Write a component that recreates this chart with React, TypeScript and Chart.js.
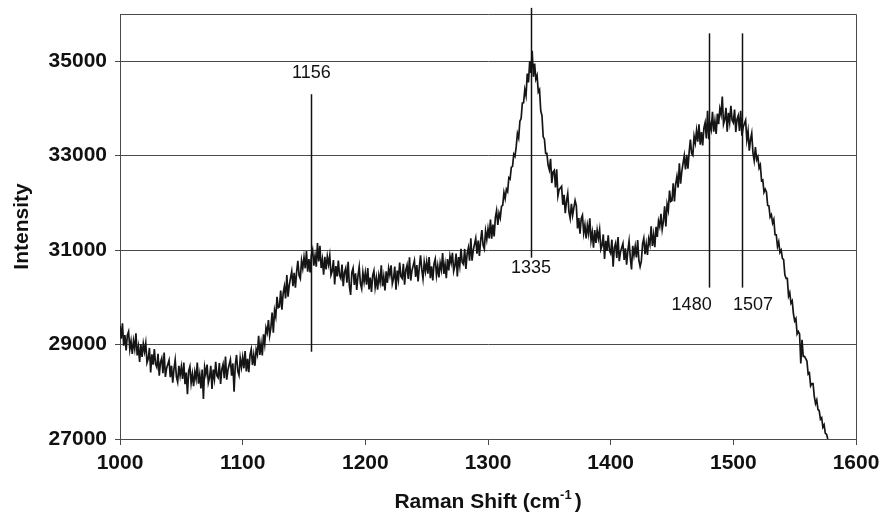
import React, { useEffect, useRef } from "react";
import { Chart, registerables } from "chart.js";

Chart.register(...registerables);

// Raman spectrum sampled every 1 cm^-1 starting at 1000 cm^-1 (one row = 10 cm^-1)
const ramanStart = 1000;
const ramanStep = 1;
const intensity = [
  29400, 29125, 29450, 28975, 29200, 28875, 29200, 29275, 28900, 29075,
  28800, 29080, 28910, 29240, 28770, 28950, 28630, 29010, 28740, 29020,
  28850, 29032, 28614, 28696, 28928, 28410, 28792, 28574, 28906, 28588,
  28520, 28805, 28340, 28625, 28710, 28395, 28830, 28315, 28500, 28585,
  28670, 28311, 28552, 28193, 28484, 28675, 28316, 28207, 28548, 28339,
  28530, 28274, 28618, 28162, 28406, 27950, 28444, 28538, 28182, 28376,
  28120, 28420, 28270, 28620, 28170, 28370, 28070, 28470, 27850, 28520,
  28370, 28578, 28186, 28294, 28552, 28060, 28468, 28276, 28634, 28342,
  28300, 28608, 28166, 28474, 28582, 28290, 28748, 28256, 28464, 28572,
  28680, 28340, 28600, 28000, 28570, 28780, 28440, 28350, 28710, 28520,
  28730, 28497, 28864, 28431, 28698, 28415, 28782, 28899, 28566, 28783,
  28550, 28895, 28790, 29185, 28780, 29025, 28770, 29215, 29010, 29355,
  29250, 29520, 29190, 29360, 29680, 29250, 29720, 29590, 30010, 29780,
  29800, 30145, 29740, 30085, 30230, 29975, 30470, 30015, 30260, 30405,
  30550, 30235, 30520, 30205, 30540, 30775, 30460, 30395, 30780, 30615,
  30850, 30615, 30980, 30545, 30810, 30525, 30890, 31005, 30670, 30885,
  30650, 31150, 30760, 31090, 30620, 30800, 30480, 30860, 30590, 30870,
  30700, 30885, 30470, 30555, 30790, 30275, 30660, 30445, 30780, 30465,
  30400, 30692, 30234, 30526, 30618, 30310, 30752, 30244, 30050, 30528,
  30620, 30265, 30510, 30155, 30450, 30645, 30290, 30185, 30530, 30325,
  30520, 30269, 30618, 30167, 30416, 30115, 30464, 30563, 30212, 30411,
  30160, 30466, 30322, 30678, 30234, 30440, 30146, 30552, 30308, 30614,
  30470, 30678, 30286, 30394, 30652, 30160, 30568, 30376, 30734, 30442,
  30400, 30708, 30266, 30574, 30682, 30390, 30848, 30356, 30564, 30672,
  30780, 30432, 30684, 30336, 30638, 30890, 30592, 30394, 30746, 30548,
  30750, 30502, 30854, 30406, 30658, 30360, 30712, 30814, 30466, 30668,
  30420, 30726, 30582, 30938, 30494, 30700, 30406, 30812, 30568, 30874,
  30730, 30942, 30554, 30666, 30928, 30440, 30852, 30664, 31026, 30738,
  30700, 31025, 30600, 30925, 31050, 30775, 31250, 30775, 31000, 31125,
  31250, 30925, 31200, 30875, 31200, 31425, 31100, 31025, 31400, 31225,
  31450, 31248, 31646, 31244, 31542, 31290, 31688, 31836, 31534, 31782,
  31680, 31927, 31949, 32221, 32093, 32290, 32237, 32534, 32506, 32753,
  32775, 33030, 32985, 33190, 33470, 33375, 33730, 33785, 34115, 34120,
  34400, 34270, 34740, 34550, 35000, 34750, 35220, 34670, 34950, 34620,
  34700, 34350, 34400, 33950, 33850, 33400, 33350, 33050, 33050, 32800,
  32700, 32935, 32420, 32655, 32690, 32325, 32710, 32145, 32280, 32315,
  32350, 31960, 32170, 31780, 32040, 32200, 31810, 31670, 31980, 31740,
  31900, 32050, 31940, 31460, 31680, 31350, 31670, 31740, 31360, 31530,
  31250, 31525, 31350, 31675, 31200, 31375, 31050, 31425, 31150, 31425,
  31250, 31433, 31016, 31099, 31332, 30815, 31198, 30981, 31314, 30997,
  30930, 31221, 30650, 31053, 31144, 30835, 31276, 30767, 30958, 31049,
  31140, 30790, 31040, 30690, 30990, 31190, 30840, 30590, 31090, 30890,
  31080, 30847, 31214, 30781, 30650, 30765, 31132, 31249, 30916, 31133,
  30900, 31235, 31120, 31505, 31090, 31325, 31060, 31495, 31280, 31615,
  31500, 31770, 31440, 31610, 31930, 31500, 31970, 31840, 32260, 32030,
  32050, 32415, 32030, 32395, 32560, 32325, 32840, 32405, 32670, 32835,
  33000, 32708, 33016, 32724, 33082, 33340, 33048, 33006, 33414, 33272,
  33530, 33297, 33664, 33231, 33498, 33215, 33582, 33699, 33366, 33950,
  33350, 33677, 33554, 33931, 33508, 33735, 33462, 33889, 33666, 33993,
  33870, 34250, 33666, 33764, 34012, 33510, 33908, 33706, 34054, 33752,
  33700, 33975, 33500, 33775, 33850, 33525, 33950, 33425, 33600, 33675,
  33750, 33335, 33520, 33105, 33340, 33475, 33060, 32895, 33180, 32915,
  32975, 32740, 32805, 32470, 32485, 32225, 32290, 32230, 31945, 31935,
  31700, 31750, 31575, 31650, 31325, 31325, 31075, 31175, 30950, 31000,
  30825, 30800, 30475, 30400, 30400, 30025, 30100, 29875, 29925, 29650,
  29500, 29550, 29225, 29275, 29225, 28600, 29100, 28750, 28750, 28700,
  28650, 28375, 28400, 28125, 28175, 28175, 27900, 27750, 27825, 27625,
  27600, 27420, 27450, 27250, 27300, 27120, 27100, 27000,
];

const yTicks = [27000, 29000, 31000, 33000, 35000];
const xMin = 1000;
const xMax = 1600;
const xStep = 100;
const yMin = 27000;
const yMax = 36000;

// Peak marker lines and labels (data units)
const peakPositions = [1156, 1335, 1480, 1507];
const peakLabels = ["1156", "1335", "1480", "1507"];
const peakLineTop = [34300, 36130, 35590, 35590];
const peakLineBottom = [28850, 30840, 30206, 30206];
const peakLabelX = [1156, 1335, 1466, 1516];
const peakLabelY = [34746, 30630, 29840, 29840];

const xTitle = "Raman Shift (cm";
const xTitleSup = "-1";
const xTitleEnd = ")";
const yTitle = "Intensity";

const FONT = '"Liberation Sans", Arial, Helvetica, sans-serif';
const GRID = "#4a4a4a";

export default function App() {
  const ref = useRef<HTMLCanvasElement>(null);

  useEffect(() => {
    const canvas = ref.current;
    if (!canvas) return;
    const points = intensity.map((v, i) => ({ x: ramanStart + i * ramanStep, y: v }));

    const decor = {
      id: "decor",
      afterDatasetsDraw(chart: any) {
        const { ctx, chartArea, scales } = chart;
        const xs = scales.x;
        const ys = scales.y;
        ctx.save();
        // frame top/right
        ctx.strokeStyle = GRID;
        ctx.lineWidth = 1;
        ctx.beginPath();
        ctx.moveTo(chartArea.left, chartArea.top + 0.5);
        ctx.lineTo(chartArea.right + 0.5, chartArea.top + 0.5);
        ctx.lineTo(chartArea.right + 0.5, chartArea.bottom);
        ctx.stroke();
        // peak lines
        ctx.strokeStyle = "#111";
        ctx.lineWidth = 1.5;
        peakPositions.forEach((p, i) => {
          const px = Math.round(xs.getPixelForValue(p)) + 0.5;
          ctx.beginPath();
          ctx.moveTo(px, ys.getPixelForValue(peakLineTop[i]));
          ctx.lineTo(px, ys.getPixelForValue(peakLineBottom[i]));
          ctx.stroke();
        });
        ctx.fillStyle = "#111";
        ctx.font = `18px ${FONT}`;
        ctx.textAlign = "center";
        ctx.textBaseline = "middle";
        peakLabels.forEach((t, i) => {
          ctx.fillText(t, xs.getPixelForValue(peakLabelX[i]), ys.getPixelForValue(peakLabelY[i]));
        });
        // axis titles
        ctx.font = `bold 21px ${FONT}`;
        ctx.textBaseline = "alphabetic";
        const w1 = ctx.measureText(xTitle).width;
        ctx.font = `bold 13px ${FONT}`;
        const w2 = ctx.measureText(xTitleSup).width;
        ctx.font = `bold 21px ${FONT}`;
        const w3 = ctx.measureText(xTitleEnd).width;
        const total = w1 + w2 + 3 + w3;
        const cx = (chartArea.left + chartArea.right) / 2;
        let sx = cx - total / 2;
        const by = 508;
        ctx.textAlign = "left";
        ctx.fillText(xTitle, sx, by);
        sx += w1;
        ctx.font = `bold 13px ${FONT}`;
        ctx.fillText(xTitleSup, sx, by - 9);
        sx += w2 + 3;
        ctx.font = `bold 21px ${FONT}`;
        ctx.fillText(xTitleEnd, sx, by);
        ctx.save();
        ctx.translate(22, (chartArea.top + chartArea.bottom) / 2);
        ctx.rotate(-Math.PI / 2);
        ctx.textAlign = "center";
        ctx.textBaseline = "middle";
        ctx.fillText(yTitle, 0, 0);
        ctx.restore();
        ctx.restore();
      },
    };

    const chart = new Chart(canvas, {
      type: "line",
      data: {
        datasets: [
          {
            data: points,
            borderColor: "#151515",
            borderWidth: 1.7,
            pointRadius: 0,
            tension: 0,
            fill: false,
          },
        ],
      },
      options: {
        responsive: false,
        animation: false,
        layout: { padding: { top: 14, right: 26, left: 0, bottom: 0 } },
        plugins: { legend: { display: false }, tooltip: { enabled: false } },
        scales: {
          x: {
            type: "linear",
            min: xMin,
            max: xMax,
            ticks: {
              stepSize: xStep,
              color: "#111",
              font: { family: FONT, size: 21, weight: "bold" },
              padding: 6,
              maxRotation: 0,
              callback: (v: any) => String(v),
            },
            grid: { drawOnChartArea: false, drawTicks: true, tickLength: 6, color: GRID },
            border: { color: GRID, width: 1 },
            afterFit: (s: any) => {
              s.height = 74;
              s.paddingLeft = 0;
              s.paddingRight = 0;
            },
          },
          y: {
            type: "linear",
            min: yMin,
            max: yMax,
            afterBuildTicks: (s: any) => {
              s.ticks = yTicks.map((v) => ({ value: v }));
            },
            ticks: {
              color: "#111",
              font: { family: FONT, size: 21, weight: "bold" },
              padding: 8,
              callback: (v: any) => String(v),
            },
            grid: { drawOnChartArea: true, drawTicks: true, tickLength: 5, color: GRID, lineWidth: 1 },
            border: { color: GRID, width: 1 },
            afterFit: (s: any) => {
              s.width = 120;
              s.paddingTop = 0;
              s.paddingBottom = 0;
            },
          },
        },
      },
      plugins: [decor],
    });
    return () => chart.destroy();
  }, []);

  return (
    <div style={{ position: "fixed", left: 0, top: 0, width: 882, height: 513, background: "#fff" }}>
      <canvas ref={ref} width={882} height={513} style={{ width: 882, height: 513 }} />
    </div>
  );
}
